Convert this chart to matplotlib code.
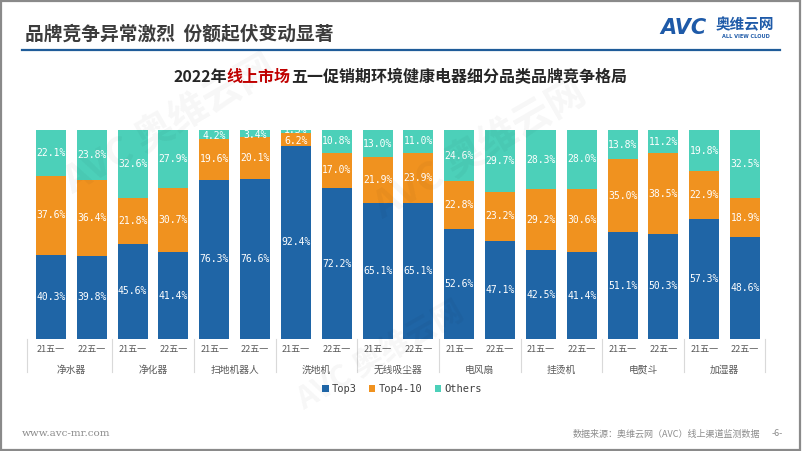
import matplotlib
matplotlib.use("Agg")
import matplotlib.pyplot as plt
from matplotlib.patches import Rectangle
from matplotlib.lines import Line2D
import numpy as np

plt.rcParams['font.family'] = ['Noto Sans CJK SC', 'DejaVu Sans']

categories = ['净水器', '净化器', '扫地机器人', '洗地机', '无线吸尘器',
              '电风扇', '挂烫机', '电熨斗', '加湿器']
periods = ['21五一', '22五一']
series = ['Top3', 'Top4-10', 'Others']

top3 = [40.3, 39.8, 45.6, 41.4, 76.3, 76.6, 92.4, 72.2, 65.1,
        65.1, 52.6, 47.1, 42.5, 41.4, 51.1, 50.3, 57.3, 48.6]
top4_10 = [37.6, 36.4, 21.8, 30.7, 19.6, 20.1, 6.2, 17.0, 21.9,
           23.9, 22.8, 23.2, 29.2, 30.6, 35.0, 38.5, 22.9, 18.9]
others = [22.1, 23.8, 32.6, 27.9, 4.2, 3.4, 1.3, 10.8, 13.0,
          11.0, 24.6, 29.7, 28.3, 28.0, 13.8, 11.2, 19.8, 32.5]

colors = ['#1F65A6', '#F0921F', '#4CD0B9']

W, H = 802, 451
fig = plt.figure(figsize=(W / 100, H / 100), dpi=100)
fig.patch.set_facecolor('white')

# page frame
fig.patches.append(Rectangle((0.001, 0.002), 0.997, 0.995, transform=fig.transFigure,
                             fill=False, edgecolor='#8a8a8a', linewidth=1.6))

# faint watermarks
for wx, wy, fs in [(170, 125, 28), (480, 150, 28), (380, 355, 22)]:
    fig.text(wx / W, 1 - wy / H, 'AVC 奥维云网', fontsize=fs, fontweight='bold',
             color='#000000', alpha=0.035, rotation=30, ha='center', va='center',
             zorder=0)

# header
fig.text(25 / W, 1 - 34 / H, '品牌竞争异常激烈  份额起伏变动显著', fontsize=13.5,
         fontweight='bold', color='#3c3c3c', va='center', ha='left')
fig.add_artist(Line2D([22 / W, 780 / W], [1 - 50 / H, 1 - 50 / H],
                      transform=fig.transFigure, color='#1F5C99', linewidth=1.6))

# logo
fig.text(660 / W, 1 - 28 / H, 'AVC', fontsize=15, fontweight='bold', style='italic',
         color='#1E5AA8', va='center', ha='left', family='DejaVu Sans')
fig.text(716 / W, 1 - 24 / H, '奥维云网', fontsize=10.5, fontweight='bold',
         color='#1E5AA8', va='center', ha='left')
fig.text(746 / W, 1 - 37 / H, 'ALL VIEW CLOUD', fontsize=3.6, fontweight='bold',
         color='#1E5AA8', va='center', ha='center', family='DejaVu Sans')

# chart title with red part
t_y = 1 - 77 / H
parts = [('2022年', '#262626'), ('线上市场', '#C00000'),
         ('五一促销期环境健康电器细分品类品牌竞争格局', '#262626')]
renderer = fig.canvas.get_renderer()
texts = []
for s, c in parts:
    t = fig.text(0, t_y, s, fontsize=11.5, fontweight='bold', color=c,
                 va='center', ha='left')
    texts.append(t)
widths = [t.get_window_extent(renderer).width for t in texts]
x0 = 400 - sum(widths) / 2
for t, w in zip(texts, widths):
    t.set_x(x0 / W)
    x0 += w

# main axes
ax = fig.add_axes([26.5 / W, 1 - 339 / H, (765.5 - 26.5) / W, (339 - 130) / H])
ax.patch.set_alpha(0)
xpos = np.arange(len(top3))
bw = 0.735
b1 = ax.bar(xpos, top3, bw, color=colors[0], label=series[0])
b2 = ax.bar(xpos, top4_10, bw, bottom=top3, color=colors[1], label=series[1])
bottom2 = np.array(top3) + np.array(top4_10)
b3 = ax.bar(xpos, others, bw, bottom=bottom2, color=colors[2], label=series[2])

for vals, bots in [(top3, np.zeros(len(top3))), (top4_10, np.array(top3)), (others, bottom2)]:
    for xi, v, b in zip(xpos, vals, bots):
        yc = b + v / 2
        if v < 2:
            yc = b + v  # tiny segment: lift the label so it clears the one below
        elif v < 7:
            yc = b + v / 2 - 0.8
        ax.text(xi, yc, f'{v:.1f}%', ha='center', va='center', color='white',
                fontsize=7, family='DejaVu Sans Mono', clip_on=False)

ax.set_xlim(-0.6, 17.5)
ax.set_ylim(0, 100)
ax.axis('off')

# x labels and separators
for i in range(len(xpos)):
    ax.text(xpos[i], -3, periods[i % 2], ha='center', va='top', fontsize=6.5,
            color='#595959')
for g, cat in enumerate(categories):
    ax.text(2 * g + 0.5, -12.5, cat, ha='center', va='top', fontsize=7,
            color='#595959')
for sx in [-0.6] + [2 * g + 1.5 for g in range(8)] + [17.5]:
    ax.plot([sx, sx], [0, -16], color='#d9d9d9', linewidth=0.8, clip_on=False)

# legend
leg = fig.legend(handles=[b1, b2, b3], labels=series, loc='center',
                 bbox_to_anchor=(402 / W, 1 - 389 / H), ncol=3, frameon=False,
                 handlelength=0.6, handleheight=0.6, handletextpad=0.3,
                 columnspacing=1.2, prop={'family': 'DejaVu Sans Mono', 'size': 7.5})
for t in leg.get_texts():
    t.set_color('#404040')

# footer
fig.text(22 / W, 1 - 434 / H, 'www.avc-mr.com', fontsize=7.5, color='#8c8c8c',
         family='DejaVu Serif', va='center', ha='left')
fig.text(760 / W, 1 - 434 / H, '数据来源：奥维云网（AVC）线上渠道监测数据', fontsize=6.5,
         color='#8c8c8c', va='center', ha='right')
fig.text(777 / W, 1 - 434 / H, '-6-', fontsize=6.5, color='#8c8c8c',
         va='center', ha='center')

fig.savefig('out.png', dpi=100)
